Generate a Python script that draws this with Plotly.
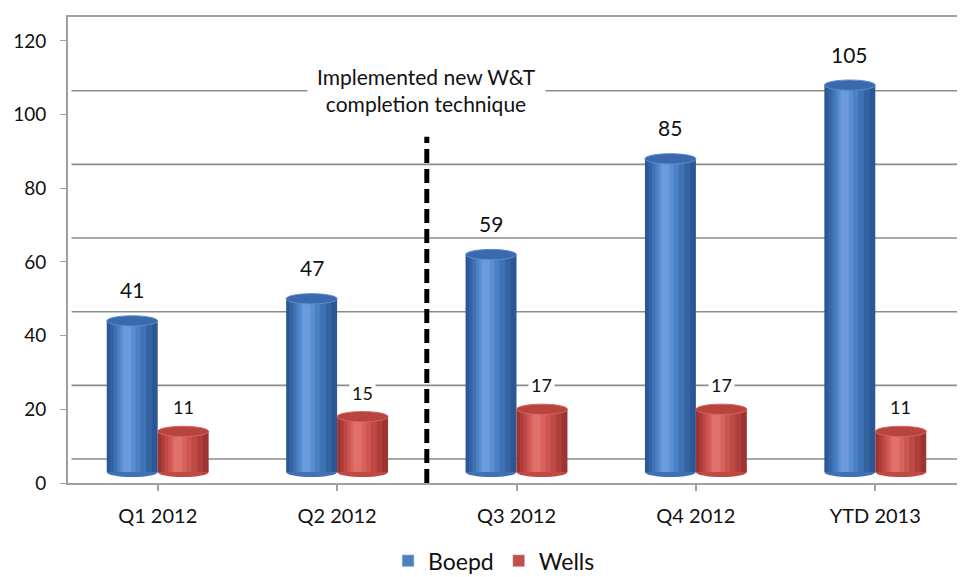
import plotly.graph_objects as go

categories = ["Q1 2012", "Q2 2012", "Q3 2012", "Q4 2012", "YTD 2013"]
boepd = [41, 47, 59, 85, 105]
wells = [11, 15, 17, 17, 11]
y_ticks = [0, 20, 40, 60, 80, 100, 120]

FONT = "Lato, 'Open Sans', sans-serif"
BASE = 3.0           # 3-D floor lift of the cylinders
GRID_OFF = 6.5       # back-wall gridline offset
BW = 0.284           # bar width in category units
CAP = 1.4            # half height of cylinder ellipses (y units)

series = [
    ("Boepd", boepd, -BW, ["#2b5796", "#34649f", "#3f72b5", "#4a80c4", "#5a8ed2", "#6b9bdc"],
     "#4f81bd", "#3a69ad", 21, 31),
    ("Wells", wells, 0.0, ["#9c3431", "#ad3e3a", "#bf4a45", "#cd5651", "#d8635d", "#e0706a"],
     "#c0504d", "#b8443f", 18, 24),
]

fig = go.Figure()
xs = list(range(len(categories)))

# back-wall gridlines
for t in y_ticks[:-1]:
    fig.add_shape(type="line", xref="paper", yref="y", x0=0.004, x1=1,
                  y0=t + GRID_OFF, y1=t + GRID_OFF,
                  line=dict(color="#8c8c8c", width=1.6), layer="below")

fracs = [1.0, 0.82, 0.64, 0.46, 0.3, 0.16]
p = 0.38
for name, vals, off0, cols, legcol, capcol, fs, ys in series:
    for f, c in zip(fracs, cols):
        left = off0 + BW * (p - p * f)
        fig.add_trace(go.Bar(
            x=xs, y=vals, base=BASE, width=BW * f, offset=left,
            marker=dict(color=c, line=dict(width=0)),
            showlegend=False, hoverinfo="skip"))
    fig.add_trace(go.Bar(x=xs, y=[None] * len(xs), name=name,
                         marker=dict(color=legcol), showlegend=True))
    for xi, v in zip(xs, vals):
        # rounded bottom
        fig.add_shape(type="circle", xref="x", yref="y",
                      x0=xi + off0, x1=xi + off0 + BW, y0=BASE - CAP, y1=BASE + CAP,
                      fillcolor=cols[2], line=dict(width=0), layer="below")
        # top cap
        fig.add_shape(type="circle", xref="x", yref="y",
                      x0=xi + off0, x1=xi + off0 + BW, y0=v + BASE - CAP, y1=v + BASE + CAP,
                      fillcolor=capcol, line=dict(width=1, color=cols[4]), layer="above")
        fig.add_annotation(x=xi, y=v + BASE, xref="x", yref="y",
                           text=str(v), showarrow=False,
                           xshift=(off0 + BW / 2) * 179.4, yshift=ys,
                           font=dict(size=fs, color="#111", family=FONT),
                           bgcolor="white" if name == "Wells" else "rgba(0,0,0,0)",
                           borderpad=2)

# divider
fig.add_shape(type="line", xref="x", yref="y", x0=1.5, x1=1.5, y0=0, y1=94,
              line=dict(color="black", width=5, dash="14px,6px"), layer="above")
fig.add_annotation(x=1.5, y=106.7, xref="x", yref="y",
                   text="Implemented new W&T<br>completion technique",
                   showarrow=False, font=dict(size=21, color="#111", family=FONT),
                   bgcolor="white", borderpad=9)

# page body has an 8px default margin; the figure is sized to fill the rest
fig.update_layout(
    width=957, height=569, barmode="overlay",
    margin=dict(l=60, r=0, t=9, b=94, autoexpand=False),
    paper_bgcolor="white", plot_bgcolor="white",
    font=dict(family=FONT, color="#111"),
    legend=dict(orientation="h", x=0.475, xanchor="center", y=-0.167, yanchor="middle",
                font=dict(size=23, family=FONT), traceorder="normal"),
    xaxis=dict(range=[-0.5, 4.5], tickmode="array", tickvals=xs, ticktext=categories,
               showline=True, linecolor="#a0a0a0", linewidth=2, mirror=True,
               ticks="outside", ticklen=6, tickcolor="#a0a0a0", tickwidth=1.5,
               showgrid=False, zeroline=False, automargin=False, ticklabelstandoff=8,
               tickfont=dict(size=20, family=FONT)),
    yaxis=dict(range=[0, 126.5], tickmode="array", tickvals=y_ticks,
               showline=True, linecolor="#a0a0a0", linewidth=2,
               ticks="outside", ticklen=6, tickcolor="#a0a0a0", automargin=False,
               ticklabelstandoff=10,
               showgrid=False, zeroline=False, tickfont=dict(size=19, family=FONT)),
)

fig.write_html("out.html")
